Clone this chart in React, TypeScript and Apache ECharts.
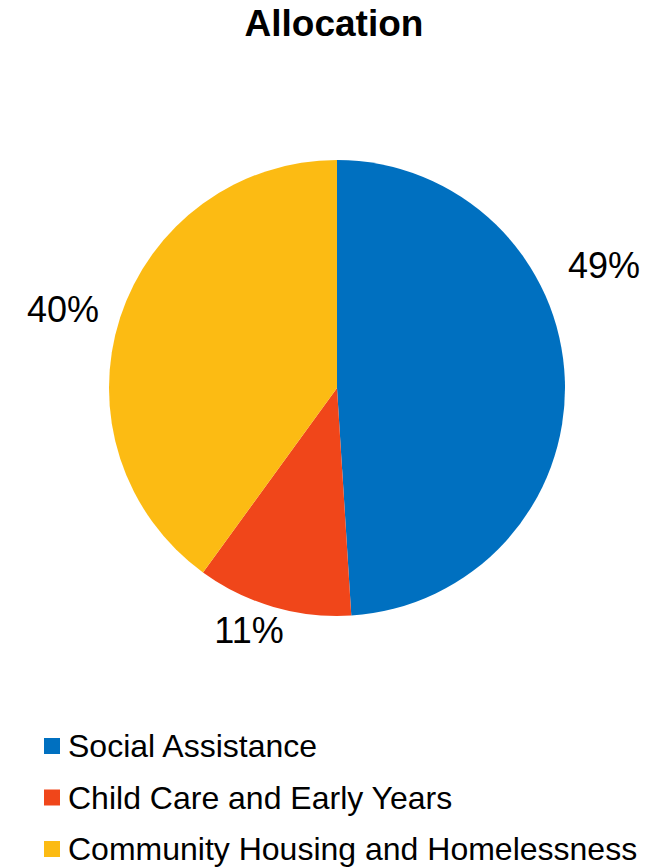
import React, { useEffect, useRef } from "react";
import * as echarts from "echarts";

const categories = ["Social Assistance", "Child Care and Early Years", "Community Housing and Homelessness"];
const values = [49, 11, 40];
const colors = ["#0070C0", "#F0461A", "#FCBB13"];
const labelPositions = [
  [604, 265],
  [249, 630],
  [63, 309],
];

export default function App() {
  const ref = useRef<HTMLDivElement>(null);
  useEffect(() => {
    document.body.style.margin = "0";
    const chart = echarts.init(ref.current!, null, { renderer: "svg" });
    chart.setOption({
      animation: false,
      title: {
        text: "Allocation",
        left: "center",
        top: 0,
        textStyle: { fontFamily: "Liberation Sans", fontWeight: "bold", fontSize: 37, color: "#000" },
      },
      legend: {
        orient: "vertical",
        left: 44,
        top: 730,
        padding: 0,
        icon: "rect",
        itemWidth: 16,
        itemHeight: 16,
        itemGap: 19.5,
        data: categories,
        textStyle: { fontFamily: "Liberation Sans", fontSize: 32, lineHeight: 32, color: "#000", padding: [0, 0, 0, 3] },
      },
      series: [
        {
          type: "pie",
          center: [337, 388],
          radius: 228,
          startAngle: 90,
          clockwise: true,
          data: categories.map((c, i) => ({ name: c, value: values[i], itemStyle: { color: colors[i] } })),
          itemStyle: { borderWidth: 0 },
          label: {
            show: true,
            formatter: "{d}%",
            fontFamily: "Liberation Sans",
            fontSize: 36,
            color: "#000",
            overflow: "none",
            width: 120,
          },
          labelLine: { show: false },
          labelLayout: (p: any) => ({
            x: labelPositions[p.dataIndex][0],
            y: labelPositions[p.dataIndex][1],
            align: "center",
            verticalAlign: "middle",
          }),
        },
      ],
    });
    return () => chart.dispose();
  }, []);
  return <div ref={ref} style={{ width: 668, height: 868 }} />;
}
